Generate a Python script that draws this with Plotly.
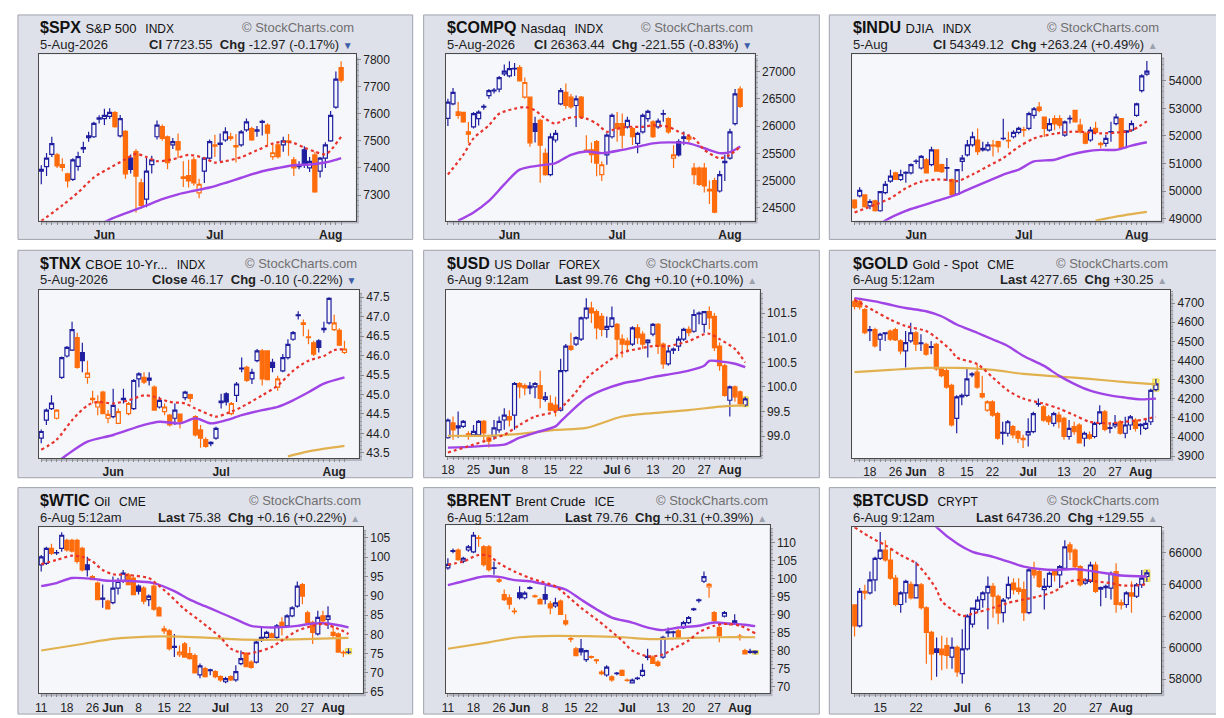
import pandas as pd
import plotly.graph_objects as go

W, H = 1224, 718

US_HOLIDAYS = ["2026-05-25", "2026-06-19", "2026-07-03"]


def trading_days(start, end, skip=()):
    days = [d.strftime("%Y-%m-%d") for d in pd.bdate_range(start, end)]
    return [d for d in days if d not in skip]


INDEX_DAYS = trading_days("2026-05-13", "2026-08-05", US_HOLIDAYS)
TNX_DAYS = trading_days("2026-05-11", "2026-08-05", US_HOLIDAYS)
FX_DAYS = trading_days("2026-05-18", "2026-08-06")
GOLD_DAYS = trading_days("2026-05-13", "2026-08-06", ["2026-05-25", "2026-07-03"])
OIL_DAYS = trading_days("2026-05-11", "2026-08-06", US_HOLIDAYS)
BTC_DAYS = [d.strftime("%Y-%m-%d") for d in pd.date_range("2026-06-10", "2026-08-06")]

MONTH_TICKS = [("2026-06-01", "Jun"), ("2026-07-01", "Jul"), ("2026-08-03", "Aug")]
FX_TICKS = [("2026-05-18", "18"), ("2026-05-25", "25"), ("2026-06-01", "Jun"), ("2026-06-08", "8"),
            ("2026-06-15", "15"), ("2026-06-22", "22"), ("2026-07-01", "Jul"), ("2026-07-06", "6"),
            ("2026-07-13", "13"), ("2026-07-20", "20"), ("2026-07-27", "27"), ("2026-08-03", "Aug")]
GOLD_TICKS = [("2026-05-18", "18"), ("2026-05-26", "26"), ("2026-06-01", "Jun"), ("2026-06-08", "8"),
              ("2026-06-15", "15"), ("2026-06-22", "22"), ("2026-07-01", "Jul"), ("2026-07-13", "13"),
              ("2026-07-20", "20"), ("2026-07-27", "27"), ("2026-08-03", "Aug")]
OIL_TICKS = [("2026-05-11", "11"), ("2026-05-18", "18"), ("2026-05-26", "26"), ("2026-06-01", "Jun"),
             ("2026-06-08", "8"), ("2026-06-15", "15"), ("2026-06-22", "22"), ("2026-07-01", "Jul"),
             ("2026-07-13", "13"), ("2026-07-20", "20"), ("2026-07-27", "27"), ("2026-08-03", "Aug")]
BTC_TICKS = [("2026-06-15", "15"), ("2026-06-22", "22"), ("2026-07-01", "Jul"), ("2026-07-06", "6"),
             ("2026-07-13", "13"), ("2026-07-20", "20"), ("2026-07-27", "27"), ("2026-08-01", "Aug")]

# (open, high, low, close) per bar
SPX_OHLC = [
    (7388, 7410, 7340, 7395), (7405, 7455, 7370, 7436), (7450, 7515, 7440, 7490), (7448, 7455, 7400, 7408),
    (7412, 7436, 7388, 7402), (7378, 7382, 7328, 7352), (7358, 7436, 7352, 7430), (7406, 7460, 7390, 7442),
    (7475, 7497, 7455, 7470), (7512, 7533, 7497, 7518), (7515, 7570, 7510, 7564), (7580, 7594, 7564, 7585),
    (7582, 7618, 7558, 7594), (7590, 7620, 7580, 7605), (7604, 7610, 7548, 7552), (7518, 7595, 7512, 7582),
    (7535, 7540, 7360, 7378), (7436, 7450, 7380, 7395), (7460, 7470, 7236, 7370), (7345, 7360, 7250, 7262),
    (7285, 7440, 7255, 7388), (7412, 7445, 7380, 7430), (7515, 7575, 7505, 7558), (7552, 7560, 7500, 7509),
    (7515, 7520, 7395, 7420), (7485, 7510, 7470, 7497), (7497, 7527, 7436, 7467), (7362, 7425, 7330, 7367),
    (7372, 7430, 7328, 7352), (7430, 7440, 7335, 7345), (7308, 7360, 7288, 7340), (7388, 7440, 7345, 7436),
    (7436, 7505, 7430, 7497), (7480, 7522, 7440, 7485), (7492, 7527, 7425, 7487), (7503, 7550, 7497, 7533),
    (7515, 7530, 7500, 7509), (7482, 7525, 7420, 7478), (7485, 7540, 7478, 7533), (7540, 7582, 7533, 7570),
    (7545, 7552, 7500, 7503), (7540, 7555, 7515, 7536), (7568, 7578, 7520, 7572), (7558, 7565, 7485, 7528),
    (7442, 7490, 7430, 7456), (7485, 7492, 7435, 7442), (7485, 7515, 7460, 7500), (7500, 7525, 7445, 7495),
    (7430, 7440, 7370, 7400), (7412, 7425, 7395, 7405), (7467, 7480, 7400, 7415), (7400, 7440, 7385, 7424),
    (7448, 7460, 7309, 7312), (7388, 7440, 7365, 7436), (7436, 7495, 7400, 7485), (7500, 7610, 7497, 7594),
    (7624, 7755, 7618, 7727), (7770, 7793, 7715, 7723.55),
]
SPX_MA20 = [(0, 7205), (4, 7262), (7, 7310), (10, 7365), (13, 7400), (16, 7432), (18, 7452), (20, 7440),
            (22, 7425), (25, 7432), (28, 7448), (31, 7436), (33, 7420), (35, 7425), (38, 7440), (41, 7465),
            (44, 7490), (46, 7497), (48, 7492), (50, 7475), (52, 7460), (54, 7450), (55, 7465), (57, 7515)]
SPX_MA50 = [(12, 7200), (13, 7210), (17, 7240), (20, 7262), (23, 7285), (26, 7303), (29, 7316), (32, 7328),
            (35, 7345), (38, 7364), (42, 7388), (45, 7400), (48, 7410), (51, 7413), (54, 7420), (56, 7430),
            (57, 7436)]

COMPQ_OHLC = [
    (26140, 26500, 26000, 26440), (26408, 26700, 26380, 26620), (26260, 26440, 26136, 26197),
    (26250, 26260, 26060, 26076), (25895, 26076, 25683, 25850), (25985, 26257, 25955, 26227),
    (26136, 26290, 26010, 26257), (26360, 26400, 26300, 26348), (26560, 26680, 26500, 26650),
    (26648, 26700, 26600, 26660), (26680, 26920, 26620, 26890), (26960, 27130, 26920, 27010),
    (26921, 27190, 26890, 27054), (27050, 27160, 26920, 27060), (27072, 27120, 26820, 26830),
    (26530, 26890, 26500, 26800), (26530, 26540, 25620, 25690), (26045, 26170, 25700, 25900),
    (26106, 26136, 24960, 25650), (25500, 25590, 25090, 25110), (25110, 25870, 25080, 25800),
    (25744, 25930, 25700, 25865), (26408, 26700, 26380, 26650), (26620, 26780, 26320, 26380),
    (26530, 26590, 26320, 26350), (26378, 26560, 25985, 26500), (26530, 26550, 26130, 26166),
    (25533, 25830, 25530, 25560), (25563, 25700, 25320, 25475), (25713, 25744, 25080, 25321),
    (25110, 25350, 24990, 25290), (25472, 25870, 25290, 25834), (25804, 26230, 25770, 26196),
    (26045, 26257, 25713, 25955), (26045, 26230, 25590, 25834), (25985, 26170, 25955, 26106),
    (25955, 25985, 25653, 25805), (25683, 25895, 25500, 25865), (25895, 26230, 25864, 26196),
    (26136, 26300, 26080, 26270), (26076, 26106, 25780, 25805), (25985, 26140, 25950, 26090),
    (26220, 26300, 26080, 26230), (26136, 26160, 25860, 25895), (25412, 25650, 25230, 25470),
    (25713, 25760, 25440, 25472), (25774, 25900, 25650, 25804), (25804, 25850, 25700, 25760),
    (25230, 25320, 24930, 25110), (25230, 25260, 24900, 24930), (25230, 25320, 24780, 24900),
    (24810, 25000, 24570, 24840), (25000, 25050, 24400, 24420), (24808, 25180, 24780, 25110),
    (25351, 25480, 24990, 25330), (25412, 25950, 25380, 25895), (26045, 26680, 26010, 26590),
    (26680, 26730, 26330, 26363.44),
]
COMPQ_MA20 = [(0, 25110), (3, 25472), (5, 25774), (8, 26015), (10, 26227), (13, 26318), (15, 26348),
              (17, 26287), (19, 26136), (21, 26045), (23, 26136), (25, 26166), (27, 26136), (29, 26045),
              (31, 25895), (32, 25925), (35, 25985), (38, 25985), (40, 26015), (43, 25985), (45, 25895),
              (48, 25774), (50, 25563), (53, 25412), (55, 25472), (57, 25623)]
COMPQ_MA50 = [(2, 24264), (5, 24415), (8, 24626), (11, 24928), (14, 25200), (18, 25278), (21, 25321),
              (24, 25472), (27, 25533), (30, 25503), (34, 25563), (37, 25623), (40, 25683), (43, 25701),
              (47, 25683), (50, 25593), (53, 25503), (55, 25520), (57, 25623)]

INDU_OHLC = [
    (49670, 49700, 49350, 49400), (49821, 50140, 49760, 50024), (49857, 49880, 49400, 49430),
    (49463, 49700, 49340, 49620), (49642, 49680, 49260, 49290), (49284, 50000, 49250, 49976),
    (49940, 50360, 49880, 50240), (50358, 50770, 50300, 50540), (50657, 50700, 50400, 50420),
    (50418, 50770, 50360, 50597), (50680, 50720, 50300, 50650), (50657, 51000, 50600, 50955),
    (51090, 51150, 50980, 51075), (50836, 51310, 50780, 51254), (51134, 51200, 50640, 50660),
    (50955, 51610, 50900, 51493), (51493, 51500, 50700, 50720), (50955, 50990, 50650, 50700),
    (50850, 51200, 50360, 50830), (50418, 50450, 49850, 49880), (49880, 50800, 49850, 50776),
    (51075, 51310, 50720, 51195), (51314, 51850, 51250, 51672), (51672, 52150, 51610, 51970),
    (51851, 52270, 51310, 51433), (51493, 51790, 51430, 51552), (51493, 51790, 51430, 51672),
    (51670, 51850, 51250, 51640), (51790, 51820, 51400, 51612), (51900, 52620, 51840, 51915),
    (51840, 52150, 51550, 51815), (51970, 52210, 51910, 52125), (52125, 52330, 52060, 52270),
    (52230, 52330, 51970, 52210), (52270, 52880, 52210, 52807), (52747, 53050, 52630, 52985),
    (53045, 53230, 52860, 52925), (52687, 52700, 51960, 52270), (52210, 52630, 52150, 52448),
    (52627, 52750, 52210, 52440), (52627, 52750, 52270, 52390), (52030, 52560, 51970, 52507),
    (52640, 52750, 52450, 52620), (52925, 52950, 52500, 52510), (52388, 52627, 52090, 52150),
    (52090, 52150, 51700, 51735), (51851, 52330, 51790, 52210), (52270, 52510, 52060, 52125),
    (51730, 51790, 51550, 51680), (51732, 52030, 51610, 51910), (52160, 52510, 51790, 52145),
    (52448, 52800, 52390, 52687), (52627, 52650, 51520, 51555), (52180, 52210, 51550, 52140),
    (52210, 52560, 52150, 52448), (52747, 53200, 52700, 53164), (53642, 54240, 53580, 54179),
    (54240, 54720, 54180, 54349.12),
]
INDU_MA20 = [(0, 49220), (4, 49500), (7, 49740), (10, 50100), (13, 50340), (16, 50420), (18, 50400),
             (20, 50360), (23, 50600), (26, 50900), (29, 51200), (32, 51600), (35, 51910), (39, 52080),
             (42, 52150), (45, 52140), (48, 52090), (51, 52120), (54, 52200), (57, 52530)]
INDU_MA50 = [(5, 48800), (6, 48930), (10, 49280), (13, 49460), (16, 49640), (20, 49880), (23, 50120),
             (26, 50358), (29, 50597), (32, 50776), (35, 51075), (39, 51134), (42, 51314), (45, 51433),
             (48, 51493), (51, 51493), (54, 51650), (57, 51770)]
INDU_MA200 = [(47, 48925), (51, 49070), (57, 49240)]

TNX_OHLC = [
    (43.88, 44.10, 43.75, 44.05), (44.34, 44.64, 44.22, 44.60), (44.64, 44.98, 44.60, 44.78),
    (44.39, 44.62, 44.36, 44.60), (45.44, 45.98, 45.40, 45.95), (45.99, 46.25, 45.95, 46.21),
    (46.14, 46.87, 46.12, 46.67), (46.46, 46.59, 45.66, 45.70), (46.08, 46.33, 45.57, 45.87),
    (45.44, 45.87, 45.28, 45.55), (44.90, 45.10, 44.77, 44.87), (44.68, 44.98, 44.47, 44.81),
    (45.06, 45.10, 44.49, 44.51), (44.39, 44.60, 44.26, 44.49), (44.43, 45.15, 44.39, 44.72),
    (44.26, 44.64, 44.24, 44.56), (44.90, 45.15, 44.77, 44.87), (44.51, 44.81, 44.47, 44.77),
    (44.64, 45.40, 44.60, 45.36), (45.40, 45.57, 45.19, 45.53), (45.44, 45.57, 45.27, 45.32),
    (45.42, 45.57, 45.23, 45.37), (45.19, 45.23, 44.58, 44.60), (44.68, 44.94, 44.64, 44.85),
    (44.56, 44.77, 44.47, 44.68), (44.47, 44.50, 44.18, 44.22), (44.39, 44.77, 44.22, 44.60),
    (44.50, 44.51, 44.13, 44.30), (44.92, 45.10, 44.85, 45.06), (45.00, 45.02, 44.81, 44.90),
    (44.43, 44.47, 43.92, 43.96), (44.09, 44.22, 43.63, 43.88), (43.84, 43.90, 43.63, 43.67),
    (43.77, 43.80, 43.67, 43.74), (43.88, 44.17, 43.84, 44.13), (44.83, 45.02, 44.64, 44.79),
    (45.02, 45.06, 44.72, 44.81), (44.51, 44.81, 44.47, 44.77), (44.98, 45.32, 44.81, 45.27),
    (45.68, 45.95, 45.57, 45.66), (45.70, 45.74, 45.32, 45.36), (45.40, 45.66, 45.27, 45.57),
    (45.87, 46.17, 45.83, 46.12), (46.12, 46.17, 45.23, 45.40), (46.12, 46.14, 45.36, 45.38),
    (45.83, 45.92, 45.57, 45.70), (45.19, 45.48, 45.10, 45.40), (45.61, 46.04, 45.57, 45.95),
    (45.95, 46.42, 45.90, 46.29), (46.42, 46.63, 46.38, 46.59), (47.05, 47.14, 46.93, 47.03),
    (46.80, 46.93, 46.50, 46.84), (46.48, 46.67, 46.29, 46.46), (46.33, 46.38, 45.99, 46.04),
    (46.38, 46.42, 46.08, 46.21), (46.70, 46.87, 46.59, 46.67), (46.84, 47.50, 46.80, 47.47),
    (46.67, 47.05, 46.63, 46.84), (46.65, 46.70, 46.25, 46.27), (46.08, 46.38, 46.04, 46.17),
]
TNX_MA20 = [(0, 43.58), (3, 43.84), (6, 44.34), (9, 44.72), (11, 44.81), (14, 44.77), (17, 44.85),
            (20, 44.98), (22, 44.94), (25, 44.81), (28, 44.77), (30, 44.64), (33, 44.47), (34, 44.43),
            (37, 44.56), (39, 44.68), (43, 44.98), (46, 45.23), (49, 45.61), (52, 45.87), (55, 45.99),
            (57, 46.14), (59, 46.16)]
TNX_MA50 = [(4, 43.35), (5, 43.45), (9, 43.79), (14, 43.96), (20, 44.22), (23, 44.30), (27, 44.26),
            (30, 44.39), (33, 44.26), (36, 44.34), (39, 44.47), (43, 44.60), (46, 44.68), (49, 44.85),
            (52, 45.06), (55, 45.28), (59, 45.44)]
TNX_MA200 = [(48, 43.41), (52, 43.54), (59, 43.68)]

USD_OHLC = [
    (98.97, 99.36, 98.95, 99.33), (99.27, 99.40, 98.93, 99.13), (99.17, 99.50, 98.97, 99.21),
    (99.20, 99.33, 99.17, 99.30), (99.05, 99.10, 98.93, 99.03), (99.03, 99.23, 99.00, 99.10),
    (99.03, 99.33, 99.00, 99.30), (99.30, 99.33, 98.87, 99.07), (98.97, 99.03, 98.77, 98.90),
    (99.00, 99.33, 98.93, 99.17), (99.13, 99.40, 99.07, 99.30), (99.33, 99.57, 99.13, 99.43),
    (99.40, 99.53, 99.20, 99.33), (99.43, 100.10, 99.13, 100.07), (100.07, 100.10, 99.77, 100.00),
    (100.03, 100.07, 99.83, 99.98), (99.98, 100.10, 99.85, 100.02), (100.00, 100.10, 99.77, 100.07),
    (100.03, 100.33, 99.57, 99.77), (99.75, 99.90, 99.70, 99.80), (99.67, 99.83, 99.50, 99.53),
    (99.63, 99.80, 99.40, 99.52), (99.53, 100.57, 99.50, 100.33), (100.33, 100.87, 100.30, 100.83),
    (100.83, 101.10, 100.73, 100.76), (100.87, 101.03, 100.83, 101.00), (100.97, 101.43, 100.93, 101.40),
    (101.40, 101.80, 101.37, 101.60), (101.60, 101.73, 101.30, 101.50), (101.53, 101.57, 100.97, 101.20),
    (101.43, 101.50, 101.03, 101.17), (101.17, 101.43, 101.00, 101.23), (101.23, 101.63, 101.20, 101.40),
    (101.27, 101.30, 100.57, 100.97), (100.97, 101.07, 100.60, 100.87), (100.93, 101.00, 100.70, 100.86),
    (100.87, 101.23, 100.83, 101.20), (101.20, 101.27, 100.87, 101.00), (101.07, 101.13, 100.77, 100.87),
    (100.90, 100.97, 100.60, 100.95), (101.07, 101.30, 101.03, 101.27), (101.27, 101.30, 100.67, 100.83),
    (100.87, 100.90, 100.37, 100.47), (100.47, 100.83, 100.43, 100.73), (100.77, 100.80, 100.67, 100.745),
    (100.83, 101.03, 100.73, 100.97), (100.97, 101.20, 100.93, 101.17), (101.17, 101.23, 101.03, 101.10),
    (101.13, 101.57, 101.10, 101.47), (101.50, 101.53, 101.27, 101.48), (101.27, 101.53, 101.10, 101.53),
    (101.53, 101.63, 101.17, 101.40), (101.43, 101.50, 100.73, 100.80), (100.83, 100.90, 100.33, 100.43),
    (100.43, 100.47, 99.80, 99.83), (99.73, 100.03, 99.40, 100.00), (100.00, 100.03, 99.70, 99.80),
    (99.90, 99.93, 99.60, 99.66), (99.63, 99.80, 99.60, 99.76),
]
USD_MA20 = [(0, 98.67), (5, 98.83), (8, 98.93), (11, 99.03), (14, 99.23), (17, 99.40), (21, 99.50),
            (23, 99.67), (25, 99.90), (27, 100.17), (31, 100.50), (34, 100.70), (37, 100.77), (40, 100.83),
            (43, 100.83), (47, 100.93), (50, 101.07), (51, 101.08), (53, 100.97), (56, 100.77), (58, 100.50)]
USD_MA50 = [(0, 98.77), (5, 98.79), (8, 98.81), (11, 98.83), (14, 98.97), (17, 99.07), (21, 99.20),
            (22, 99.30), (24, 99.50), (27, 99.77), (30, 99.93), (34, 100.07), (37, 100.13), (40, 100.20),
            (44, 100.27), (47, 100.33), (50, 100.43), (51, 100.53), (53, 100.52), (56, 100.47), (58, 100.40)]
USD_MA200 = [(0, 99.01), (8, 99.01), (14, 99.05), (21, 99.13), (27, 99.17), (34, 99.40), (40, 99.47),
             (47, 99.53), (53, 99.60), (58, 99.63)]

GOLD_OHLC = [
    (4709, 4726, 4666, 4683), (4709, 4717, 4666, 4680), (4666, 4674, 4537, 4545), (4562, 4580, 4502, 4556),
    (4562, 4571, 4468, 4476), (4511, 4545, 4450, 4537), (4545, 4545, 4502, 4540), (4554, 4562, 4502, 4511),
    (4562, 4571, 4502, 4508), (4502, 4511, 4433, 4450), (4450, 4554, 4364, 4493), (4502, 4597, 4493, 4545),
    (4545, 4554, 4450, 4485), (4492, 4537, 4450, 4488), (4485, 4493, 4425, 4433), (4472, 4502, 4433, 4468),
    (4485, 4493, 4347, 4356), (4356, 4364, 4313, 4321), (4347, 4364, 4253, 4261), (4270, 4278, 4055, 4063),
    (4098, 4218, 4020, 4210), (4210, 4227, 4166, 4218), (4218, 4364, 4210, 4304), (4330, 4339, 4313, 4325),
    (4339, 4382, 4253, 4261), (4227, 4321, 4201, 4210), (4141, 4192, 4132, 4184), (4184, 4192, 4106, 4115),
    (4123, 4132, 3986, 3994), (4025, 4080, 3960, 4020), (4020, 4089, 4003, 4080), (4055, 4063, 3994, 4012),
    (4029, 4037, 3969, 3994), (3994, 4012, 3943, 3986), (4012, 4098, 3951, 4029), (4029, 4132, 4020, 4123),
    (4175, 4201, 4158, 4172), (4158, 4166, 4080, 4089), (4106, 4115, 4063, 4080), (4072, 4132, 4055, 4123),
    (4115, 4132, 4046, 4080), (4098, 4106, 3986, 4003), (4003, 4089, 3986, 4046), (4055, 4080, 4012, 4029),
    (4063, 4072, 3969, 3969), (3994, 4029, 3951, 4020), (4012, 4029, 3986, 3994), (4003, 4080, 3994, 4072),
    (4072, 4166, 4063, 4132), (4132, 4141, 4030, 4040), (4050, 4072, 4020, 4046), (4058, 4115, 4046, 4072),
    (4080, 4089, 4012, 4020), (4020, 4106, 3994, 4063), (4063, 4115, 4037, 4106), (4089, 4098, 4029, 4046),
    (4066, 4072, 4012, 4060), (4046, 4089, 4037, 4072), (4080, 4253, 4063, 4244), (4248, 4304, 4240, 4277.65),
]
GOLD_MA20 = [(0, 4717), (4, 4657), (7, 4614), (10, 4580), (14, 4554), (16, 4519), (19, 4450), (20, 4416),
             (24, 4382), (27, 4313), (30, 4244), (33, 4201), (37, 4175), (40, 4149), (43, 4115), (46, 4080),
             (50, 4072), (53, 4080), (56, 4089), (59, 4106)]
GOLD_MA50 = [(0, 4726), (4, 4709), (7, 4691), (10, 4674), (14, 4657), (17, 4631), (20, 4588), (24, 4545),
             (27, 4511), (30, 4476), (33, 4425), (37, 4373), (40, 4321), (43, 4278), (46, 4244), (50, 4218),
             (53, 4206), (56, 4197), (59, 4201)]
GOLD_MA200 = [(0, 4339), (7, 4351), (14, 4361), (20, 4361), (27, 4351), (33, 4330), (40, 4316), (46, 4304),
              (53, 4287), (59, 4275)]

WTIC_OHLC = [
    (98.0, 100.6, 96.3, 100.1), (98.4, 102.7, 98.0, 102.3), (102.3, 103.5, 100.6, 101.0), (101.2, 101.9, 100.6, 101.1),
    (102.3, 106.5, 101.4, 105.7), (104.4, 104.8, 101.4, 101.9), (104.4, 104.8, 101.2, 101.6), (104.4, 104.8, 98.4, 98.9),
    (102.3, 102.7, 96.3, 96.7), (98.0, 100.1, 95.0, 96.8), (95.0, 95.4, 94.0, 94.2), (93.3, 93.7, 89.0, 89.0),
    (89.4, 92.9, 86.9, 89.1), (88.6, 89.0, 86.5, 86.6), (88.2, 95.0, 87.8, 92.0), (92.0, 94.6, 90.3, 93.7),
    (93.7, 96.7, 93.3, 95.9), (95.4, 95.9, 92.9, 92.9), (94.6, 95.0, 90.3, 90.3), (92.5, 92.9, 90.3, 91.2),
    (92.0, 92.5, 87.8, 88.6), (89.0, 90.3, 87.3, 89.9), (92.5, 93.3, 86.1, 86.5), (86.9, 87.3, 84.8, 84.8),
    (81.4, 82.2, 80.1, 80.9), (80.9, 81.4, 75.8, 76.3), (76.9, 80.1, 74.1, 76.6), (74.7, 77.1, 74.1, 75.4),
    (77.5, 78.0, 74.1, 74.1), (75.0, 76.7, 73.5, 73.7), (74.5, 75.0, 69.9, 70.0), (69.5, 72.4, 68.6, 71.8),
    (71.1, 71.6, 68.8, 69.0), (70.8, 71.1, 69.4, 70.6), (70.3, 70.7, 68.6, 69.0), (69.0, 69.4, 67.7, 68.2),
    (67.7, 69.0, 67.3, 68.5), (69.0, 69.4, 67.9, 68.2), (68.2, 72.0, 67.7, 70.3), (72.4, 75.8, 72.0, 73.7),
    (75.0, 75.4, 71.6, 71.6), (72.8, 73.3, 71.1, 71.4), (72.8, 78.4, 72.4, 78.0), (78.4, 81.8, 78.0, 79.2),
    (79.2, 80.9, 78.4, 80.5), (80.1, 80.5, 79.0, 79.2), (79.2, 82.7, 78.8, 82.2), (83.1, 84.4, 79.7, 81.8),
    (82.2, 85.2, 81.8, 84.8), (84.8, 87.3, 84.4, 86.9), (87.3, 93.7, 86.9, 92.5), (92.9, 93.3, 87.8, 89.9),
    (85.6, 86.1, 82.7, 83.1), (83.1, 83.5, 77.5, 80.5), (80.1, 86.1, 79.7, 84.4), (84.8, 86.1, 82.7, 83.5),
    (83.9, 87.3, 81.4, 84.8), (80.5, 82.2, 79.2, 79.7), (80.1, 80.5, 75.4, 75.4), (75.3, 75.8, 74.1, 75.2),
    (75.4, 76.3, 74.9, 75.38),
]
WTIC_MA20 = [(0, 98.2), (3, 99.3), (6, 100.4), (8, 100.1), (10, 98.9), (12, 96.7), (14, 95.6), (17, 95.4),
             (21, 94.6), (22, 93.7), (25, 90.3), (28, 86.5), (31, 83.5), (35, 79.2), (37, 76.3), (40, 75.0),
             (42, 75.4), (45, 76.7), (47, 78.4), (50, 80.9), (53, 82.2), (55, 82.7), (58, 81.4), (60, 80.1)]
WTIC_MA50 = [(0, 92.5), (3, 93.3), (6, 94.6), (10, 94.4), (13, 93.9), (16, 93.9), (19, 93.7), (22, 93.3),
             (26, 91.2), (29, 89.0), (32, 87.3), (35, 85.6), (38, 83.9), (41, 82.2), (44, 81.8), (46, 81.8),
             (50, 82.2), (53, 82.8), (56, 82.8), (60, 81.8)]
WTIC_MA200 = [(0, 75.8), (8, 77.5), (14, 78.8), (21, 79.4), (27, 79.4), (33, 79.1), (40, 78.6), (46, 78.6),
              (53, 78.8), (60, 79.1)]

BRENT_OHLC = [
    (103.0, 105.7, 102.5, 104.0), (107.6, 108.4, 107.1, 107.8), (108.0, 108.4, 105.0, 105.3), (104.9, 106.1, 104.3, 105.7),
    (108.0, 109.4, 107.5, 108.9), (107.5, 113.0, 107.1, 112.1), (111.4, 112.1, 108.9, 111.2), (108.9, 109.4, 103.4, 103.9),
    (108.9, 109.4, 102.0, 102.5), (103.0, 104.8, 101.1, 102.9), (99.7, 100.6, 98.8, 99.3), (95.6, 97.0, 93.8, 94.2),
    (94.7, 95.6, 91.5, 92.9), (91.0, 91.9, 90.1, 90.8), (96.1, 97.9, 94.2, 94.7), (94.7, 96.5, 94.2, 96.0),
    (97.3, 97.9, 97.0, 97.5), (95.2, 95.6, 94.7, 95.0), (94.2, 94.7, 92.9, 93.0), (95.6, 97.9, 92.9, 94.3),
    (93.0, 93.8, 90.1, 91.9), (92.4, 94.7, 91.9, 93.3), (93.8, 94.2, 90.1, 90.1), (88.3, 90.1, 86.9, 87.4),
    (83.3, 83.8, 82.3, 83.2), (80.5, 81.0, 78.4, 78.6), (80.5, 83.2, 78.6, 79.6), (77.5, 80.2, 76.8, 80.0),
    (78.3, 78.6, 77.7, 78.1), (77.4, 77.7, 76.3, 77.2), (74.0, 74.5, 73.1, 73.6), (73.2, 75.9, 72.7, 75.4),
    (72.7, 73.1, 71.3, 71.8), (73.6, 74.0, 73.1, 73.7), (74.5, 74.7, 73.1, 73.1), (71.8, 72.2, 71.3, 71.7),
    (71.0, 72.2, 70.8, 71.8), (72.2, 72.7, 71.8, 72.3), (73.1, 76.3, 72.7, 74.5), (78.4, 80.5, 77.3, 78.1),
    (78.2, 78.6, 76.3, 76.4), (76.8, 77.3, 75.4, 75.9), (78.2, 84.1, 77.7, 83.7), (85.2, 86.4, 83.7, 84.9),
    (85.2, 85.5, 83.7, 85.0), (85.5, 86.0, 83.7, 83.7), (86.4, 88.3, 86.0, 87.8), (87.8, 89.6, 87.4, 89.2),
    (91.6, 91.9, 91.0, 91.4), (94.1, 94.5, 93.3, 93.9), (99.3, 102.0, 98.8, 100.6), (97.7, 98.8, 94.7, 98.4),
    (90.6, 91.0, 87.8, 88.3), (86.4, 86.9, 82.3, 84.1), (89.6, 91.0, 89.2, 90.6), (87.5, 87.8, 86.9, 87.3),
    (88.3, 90.1, 87.2, 87.4), (84.0, 84.6, 82.8, 83.9), (80.0, 80.5, 79.1, 79.1), (79.8, 80.5, 79.1, 79.5),
    (79.4, 80.0, 79.0, 79.76),
]
BRENT_MA20 = [(0, 103.9), (3, 104.8), (6, 106.6), (8, 106.4), (10, 104.3), (13, 102.0), (16, 100.2), (18, 99.3),
              (21, 97.9), (23, 95.6), (26, 91.9), (29, 88.7), (31, 86.4), (34, 82.8), (36, 80.0), (39, 78.4),
              (42, 78.9), (44, 80.5), (47, 82.8), (49, 85.1), (52, 86.9), (54, 87.4), (57, 86.9), (60, 84.8)]
BRENT_MA50 = [(0, 98.2), (3, 99.3), (7, 100.6), (10, 100.5), (13, 99.6), (16, 99.3), (19, 98.4), (23, 97.0),
              (26, 94.2), (29, 91.5), (32, 89.2), (36, 87.8), (39, 86.4), (42, 85.7), (45, 86.4), (49, 86.9),
              (52, 87.8), (55, 87.5), (58, 87.2), (60, 86.8)]
BRENT_MA200 = [(0, 80.5), (8, 82.3), (14, 83.7), (21, 84.1), (27, 84.0), (34, 83.7), (40, 83.2), (47, 83.5),
               (53, 83.7), (60, 83.7)]

BTC_OHLC = [
    (62700, 62750, 60700, 61380), (61375, 63771, 61271, 63562), (63560, 63979, 63042, 63460),
    (63458, 64812, 63354, 64292), (64292, 65750, 63562, 65650), (65650, 67312, 65542, 66167),
    (66167, 66792, 65437, 65550), (65542, 66271, 64292, 64396), (64396, 64604, 62625, 62729),
    (62729, 63562, 62208, 63458), (63458, 64292, 62833, 64187), (64000, 64187, 63042, 63146),
    (63146, 65437, 63146, 63979), (63979, 64083, 62417, 62521), (62521, 62625, 58979, 60958),
    (60958, 61062, 57937, 59604), (59917, 60646, 58146, 59700), (59900, 60750, 58562, 59550),
    (60125, 60646, 58667, 59500), (59396, 60646, 58667, 60021), (60021, 60125, 58146, 58458),
    (58354, 61167, 57729, 59917), (59917, 62104, 59812, 62000), (61480, 62521, 61271, 62500),
    (62417, 63250, 62208, 63000), (63042, 63562, 62521, 63458), (63458, 64500, 61167, 63875),
    (63875, 64083, 61896, 63250), (63250, 63354, 61479, 62200), (62208, 63146, 61583, 63000),
    (63146, 64500, 63042, 64000), (64083, 64396, 63354, 63667), (63771, 64396, 63354, 63562),
    (63667, 64187, 61687, 62208), (62208, 65021, 62104, 64917), (64917, 65437, 64396, 64604),
    (64812, 64917, 63771, 63875), (63667, 64396, 62417, 63880), (63875, 64812, 63771, 64708),
    (64812, 64917, 64187, 64600), (64604, 65229, 63771, 65125), (65021, 66792, 64917, 66375),
    (66500, 66688, 65542, 66062), (66167, 66271, 64917, 65125), (65125, 65229, 63875, 63979),
    (64083, 64396, 63979, 64292), (64187, 65437, 64083, 65229), (65229, 65437, 63458, 63562),
    (63700, 63875, 62625, 63800), (63800, 64000, 63146, 63880), (63771, 64812, 63042, 64708),
    (64812, 65333, 62208, 62729), (62833, 63042, 62417, 62700), (62729, 63562, 62521, 63458),
    (63458, 64187, 62208, 63250), (63250, 64083, 63146, 63979), (63979, 64917, 63771, 64396),
    (64500, 64917, 64187, 64736.20),
]
BTC_MA20 = [(0, 67625), (3, 67000), (6, 66479), (9, 65854), (12, 65333), (14, 64604), (16, 63667),
            (17, 62937), (19, 62417), (21, 62000), (23, 62146), (27, 62521), (30, 62833), (33, 63042),
            (36, 63250), (39, 63562), (42, 64187), (45, 64292), (47, 64187), (50, 64083), (52, 63937),
            (55, 63937), (57, 64020)]
BTC_MA50 = [(14, 68400), (16, 67625), (20, 66583), (23, 66062), (27, 65750), (30, 65437), (33, 65125),
            (36, 64979), (39, 64917), (43, 64979), (46, 64854), (49, 64708), (52, 64562), (57, 64500)]

# ---------------------------------------------------------------- styling
FONT = "Liberation Sans, Arial, sans-serif"
PLOT_BG = "#f6f7fb"
PANEL_BG = "#dfe1ea"
BLUE = "#1e1e9e"
ORANGE = "#ff6c0c"
RED = "#e8332c"
PURPLE = "#a044e6"
GOLD = "#e2b14f"

RED_DOT = dict(color=RED, width=2.2, dash="dot")
PURPLE_LN = dict(color=PURPLE, width=2.4)
GOLD_LN = dict(color=GOLD, width=2.2)

PANELS = [
    dict(days=INDEX_DAYS, ohlc=SPX_OHLC, mas=[(SPX_MA50, PURPLE_LN), (SPX_MA20, RED_DOT)],
         ticks=MONTH_TICKS, yr=(7206, 7818), dtick=100, fmt="d", plot=(27, 45, 345, 213), box=(6, 5, 402, 232),
         sym="$SPX", name="S&amp;P 500", exch="INDX", date="5-Aug-2026", lab="Cl", val="7723.55",
         chg="-12.97 (-0.17%)", up=False, hl=False),
    dict(days=INDEX_DAYS, ohlc=COMPQ_OHLC, mas=[(COMPQ_MA50, PURPLE_LN), (COMPQ_MA20, RED_DOT)],
         ticks=MONTH_TICKS, yr=(24264, 27314), dtick=500, fmt="d", plot=(435, 45, 745, 213), box=(413, 5, 810, 232),
         sym="$COMPQ", name="Nasdaq", exch="INDX", date="5-Aug-2026", lab="Cl", val="26363.44",
         chg="-221.55 (-0.83%)", up=False, hl=False),
    dict(days=INDEX_DAYS, ohlc=INDU_OHLC, mas=[(INDU_MA200, GOLD_LN), (INDU_MA50, PURPLE_LN), (INDU_MA20, RED_DOT)],
         ticks=MONTH_TICKS, yr=(48925, 54955), dtick=1000, fmt="d", plot=(843, 45, 1153, 213), box=(820, 5, 1216, 232),
         sym="$INDU", name="DJIA", exch="INDX", date="5-Aug", lab="Cl", val="54349.12",
         chg="+263.24 (+0.49%)", up=True, hl=False),
    dict(days=TNX_DAYS, ohlc=TNX_OHLC, mas=[(TNX_MA200, GOLD_LN), (TNX_MA50, PURPLE_LN), (TNX_MA20, RED_DOT)],
         ticks=MONTH_TICKS, yr=(43.37, 47.69), dtick=0.5, fmt=".1f", plot=(27, 283, 348, 453), box=(6, 243, 402, 473),
         sym="$TNX", name="CBOE 10-Yr...", exch="INDX", date="5-Aug-2026", lab="Close", val="46.17",
         chg="-0.10 (-0.22%)", up=False, hl=False),
    dict(days=FX_DAYS, ohlc=USD_OHLC, mas=[(USD_MA200, GOLD_LN), (USD_MA50, PURPLE_LN), (USD_MA20, RED_DOT)],
         ticks=FX_TICKS, yr=(98.60, 101.97), dtick=0.5, fmt=".1f", plot=(435, 283, 750, 451), box=(413, 243, 810, 473),
         sym="$USD", name="US Dollar", exch="FOREX", date="6-Aug 9:12am", lab="Last", val="99.76",
         chg="+0.10 (+0.10%)", up=True, hl=True),
    dict(days=GOLD_DAYS, ohlc=GOLD_OHLC, mas=[(GOLD_MA200, GOLD_LN), (GOLD_MA50, PURPLE_LN), (GOLD_MA20, RED_DOT)],
         ticks=GOLD_TICKS, yr=(3891, 4769), dtick=100, fmt="d", plot=(843, 283, 1162, 453), box=(820, 243, 1216, 473),
         sym="$GOLD", name="Gold - Spot", exch="CME", date="6-Aug 5:12am", lab="Last", val="4277.65",
         chg="+30.25", up=True, hl=True),
    dict(days=OIL_DAYS, ohlc=WTIC_OHLC, mas=[(WTIC_MA200, GOLD_LN), (WTIC_MA50, PURPLE_LN), (WTIC_MA20, RED_DOT)],
         ticks=OIL_TICKS, yr=(64.7, 107.8), dtick=5, fmt="d", plot=(27, 523, 352, 691), box=(6, 483, 402, 712),
         sym="$WTIC", name="Oil", exch="CME", date="6-Aug 5:12am", lab="Last", val="75.38",
         chg="+0.16 (+0.22%)", up=True, hl=True),
    dict(days=OIL_DAYS, ohlc=BRENT_OHLC, mas=[(BRENT_MA200, GOLD_LN), (BRENT_MA50, PURPLE_LN), (BRENT_MA20, RED_DOT)],
         ticks=OIL_TICKS, yr=(68.1, 114.9), dtick=5, fmt="d", plot=(435, 521, 760, 691), box=(413, 483, 810, 712),
         sym="$BRENT", name="Brent Crude", exch="ICE", date="6-Aug 5:12am", lab="Last", val="79.76",
         chg="+0.31 (+0.39%)", up=True, hl=True),
    dict(days=BTC_DAYS, ohlc=BTC_OHLC, mas=[(BTC_MA50, PURPLE_LN), (BTC_MA20, RED_DOT)],
         ticks=BTC_TICKS, yr=(57105, 67625), dtick=2000, fmt="d", plot=(843, 523, 1153, 691), box=(820, 483, 1216, 712),
         sym="$BTCUSD", name="", exch="CRYPT", date="6-Aug 9:12am", lab="Last", val="64736.20",
         chg="+129.55", up=True, hl=True),
]


def fx(v):
    return v / W


def fy(v):
    return 1 - v / H


fig = go.Figure()
shapes = []
annotations = []
layout_axes = {}

for k, p in enumerate(PANELS, start=1):
    xa = "x" if k == 1 else f"x{k}"
    ya = "y" if k == 1 else f"y{k}"
    days = p["days"]
    n = len(days)
    left, top, right, bottom = p["plot"]
    bl, bt, br, bb = p["box"]

    # panel frame, plot shadow and plot background (all paper shapes below the data)
    shapes.append(dict(type="rect", xref="paper", yref="paper", x0=fx(bl), x1=fx(br), y0=fy(bb), y1=fy(bt),
                       fillcolor=PANEL_BG, line=dict(color="#9fa3ad", width=1), layer="below"))
    shapes.append(dict(type="rect", xref="paper", yref="paper", x0=fx(left + 3), x1=fx(right + 3),
                       y0=fy(bottom + 3), y1=fy(top + 3), fillcolor="#b3b7c1", line=dict(width=0), layer="below"))
    shapes.append(dict(type="rect", xref="paper", yref="paper", x0=fx(left), x1=fx(right),
                       y0=fy(bottom), y1=fy(top), fillcolor=PLOT_BG, line=dict(width=0), layer="below"))

    # moving averages
    for pts, style in p["mas"]:
        fig.add_trace(go.Scatter(
            x=[days[i] for i, _ in pts], y=[v for _, v in pts], mode="lines",
            line=dict(shape="spline", smoothing=0.8, **style), xaxis=xa, yaxis=ya, hoverinfo="skip"))

    # last-bar highlight
    if p["hl"]:
        o, h, l, c = p["ohlc"][-1]
        shapes.append(dict(type="rect", xref=xa, yref=ya, x0=n - 1.6, x1=n - 0.4, y0=l, y1=h,
                           fillcolor="#fff46a", line=dict(color="#e9d44a", width=1), layer="below"))

    # candles coloured by close vs previous close
    groups = {BLUE: ([], [], [], [], []), ORANGE: ([], [], [], [], [])}
    prev = None
    for d, (o, h, l, c) in zip(days, p["ohlc"]):
        ref = o if prev is None else prev
        g = groups[BLUE if c >= ref else ORANGE]
        for lst, v in zip(g, (d, o, h, l, c)):
            lst.append(v)
        prev = c
    for col, (xs, os_, hs, ls, cs) in groups.items():
        if not xs:
            continue
        fig.add_trace(go.Candlestick(
            x=xs, open=os_, high=hs, low=ls, close=cs, xaxis=xa, yaxis=ya, whiskerwidth=0,
            increasing=dict(line=dict(color=col, width=1.2), fillcolor=PLOT_BG),
            decreasing=dict(line=dict(color=col, width=1.2), fillcolor=col),
            hoverinfo="skip"))

    tick_map = dict(p["ticks"])
    ticktext = []
    for d in days:
        t = tick_map.get(d, "")
        if t in ("Jun", "Jul", "Aug"):
            t = f"<b>{t}</b>"
        ticktext.append(t)

    xname = "xaxis" if k == 1 else f"xaxis{k}"
    yname = "yaxis" if k == 1 else f"yaxis{k}"
    layout_axes[xname] = dict(
        domain=[fx(left), fx(right)], anchor=ya, type="category", categoryorder="array", categoryarray=days,
        range=[-0.45, n - 1 + 2.8], tickmode="array", tickvals=days, ticktext=ticktext, tickangle=0,
        ticks="outside", ticklen=3, tickcolor="#8a8a8a", showgrid=False, zeroline=False,
        showline=True, mirror=True, linecolor="#4a4a4a", linewidth=1,
        tickfont=dict(family=FONT, size=12, color="#222"), rangeslider=dict(visible=False), fixedrange=True)
    layout_axes[yname] = dict(
        domain=[fy(bottom), fy(top)], anchor=xa, side="right", range=list(p["yr"]), dtick=p["dtick"],
        tick0=0, tickformat=p["fmt"], ticks="outside", ticklen=4, tickcolor="#8a8a8a",
        minor=dict(dtick=p["dtick"] / 5, ticks="outside", ticklen=2, tickcolor="#9a9a9a", showgrid=False),
        showgrid=False, zeroline=False, showline=True, mirror=True, linecolor="#4a4a4a", linewidth=1,
        tickfont=dict(family=FONT, size=12, color="#222"), fixedrange=True)

    # header text
    row_top = bt
    title = f"<b>{p['sym']}</b>"
    if p["name"]:
        title += f" <span style='font-size:13px'>{p['name']}</span>"
    title += f"  <span style='font-size:12px'>{p['exch']}</span>"
    annotations.append(dict(xref="paper", yref="paper", x=fx(left - 1), y=fy(row_top + 13), text=title,
                            xanchor="left", yanchor="middle", showarrow=False,
                            font=dict(family=FONT, size=16, color="#111")))
    annotations.append(dict(xref="paper", yref="paper", x=fx(right), y=fy(row_top + 13),
                            text="© StockCharts.com", xanchor="right", yanchor="middle", showarrow=False,
                            font=dict(family=FONT, size=13, color="#6f6f6f")))
    annotations.append(dict(xref="paper", yref="paper", x=fx(left - 1), y=fy(row_top + 30), text=p["date"],
                            xanchor="left", yanchor="middle", showarrow=False,
                            font=dict(family=FONT, size=13, color="#222")))
    tri = "▲" if p["up"] else "▼"
    tri_col = "#9ba1ad" if p["up"] else "#3d5ea8"
    info = (f"<b>{p['lab']}</b> {p['val']}  <b>Chg</b> {p['chg']} "
            f"<span style='font-size:10px;color:{tri_col}'>{tri}</span>")
    annotations.append(dict(xref="paper", yref="paper", x=fx(right - 1), y=fy(row_top + 30), text=info,
                            xanchor="right", yanchor="middle", showarrow=False,
                            font=dict(family=FONT, size=13, color="#222")))

fig.update_layout(
    width=W, height=H, margin=dict(l=0, r=0, t=0, b=0),
    paper_bgcolor="white", plot_bgcolor="rgba(0,0,0,0)", showlegend=False, hovermode=False,
    boxgap=0.22, boxgroupgap=0,
    shapes=shapes, annotations=annotations, **layout_axes)

fig.write_html("out.html")
